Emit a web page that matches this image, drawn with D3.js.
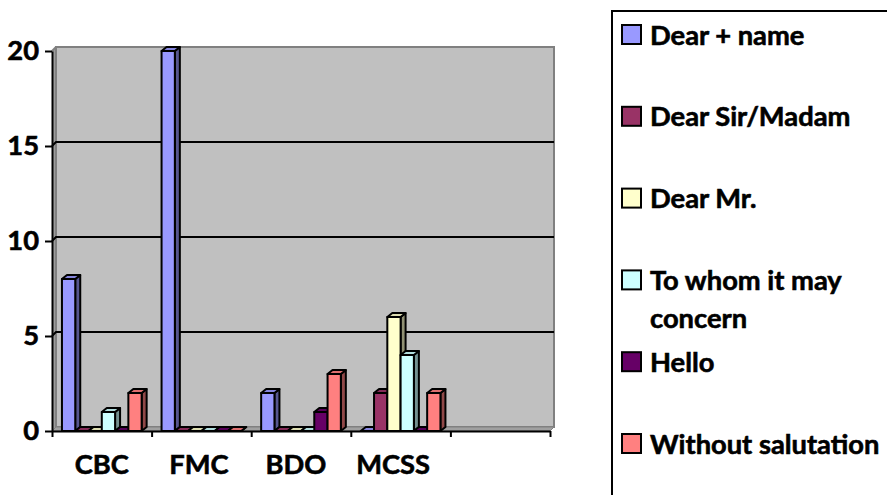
<!DOCTYPE html>
<html>
<head>
<meta charset="utf-8">
<script src="https://cdn.jsdelivr.net/npm/d3@7"></script>
<style>
  html, body { margin: 0; padding: 0; background: #ffffff; }
  svg { display: block; }
  text { font-family: Lato, "Open Sans", sans-serif; font-weight: bold; fill: #000; stroke: #000; stroke-width: 0.6px; }
</style>
</head>
<body>
<svg id="chart" width="887" height="495"></svg>
<script>
// Salutation counts per organisation
const categories = ["CBC", "FMC", "BDO", "MCSS"];
const seriesNames = ["Dear + name", "Dear Sir/Madam", "Dear Mr.", "To whom it may concern", "Hello", "Without salutation"];
const dearName      = [8, 20, 2, 0];
const dearSirMadam  = [0, 0, 0, 2];
const dearMr        = [0, 0, 0, 6];
const toWhom        = [1, 0, 0, 4];
const hello         = [0, 0, 1, 0];
const withoutSalut  = [2, 0, 3, 2];
const seriesColors  = ["#9999FF", "#993366", "#FFFFCC", "#CCFFFF", "#660066", "#FF8080"];
const yTicks = [0, 5, 10, 15, 20];

const seriesValues = [dearName, dearSirMadam, dearMr, toWhom, hello, withoutSalut];

const svg = d3.select("#chart");
const FONT = 27.3;

// Plot frame: front axes plus a shallow 3-D back wall
const plotLeft = 52, plotRight = 550, plotTop = 51, plotZero = 431;
const wallDx = 4, wallDy = 4;      // offset of the back wall
const barDx = 5, barDy = 4;        // depth of each column
const slotCount = categories.length + 1; // the category axis keeps one trailing empty slot

const x = d3.scaleLinear().domain([0, slotCount]).range([plotLeft, plotRight]);
const y = d3.scaleLinear().domain([0, 20]).range([plotZero, plotTop]);
const inner = d3.scaleBand().domain(d3.range(seriesNames.length))
  .range([0, x(1) - x(0)]).paddingInner(0).paddingOuter(0.75);

const pts = a => a.map(p => p.join(",")).join(" ");

// left side wall
svg.append("polygon")
  .attr("points", pts([[plotLeft, plotZero], [plotLeft, y(20)], [plotLeft + wallDx, y(20) - wallDy], [plotLeft + wallDx, plotZero - wallDy]]))
  .attr("fill", "#9c9c9c");
// back wall
svg.append("rect")
  .attr("x", plotLeft + wallDx).attr("y", y(20) - wallDy)
  .attr("width", plotRight - plotLeft).attr("height", plotZero - y(20))
  .attr("fill", "#c0c0c0").attr("stroke", "#808080").attr("stroke-width", 2);
// floor
svg.append("polygon")
  .attr("points", pts([[plotLeft, plotZero], [plotLeft + wallDx, plotZero - wallDy], [plotRight + wallDx, plotZero - wallDy], [plotRight, plotZero]]))
  .attr("fill", "#a0a0a0").attr("stroke", "#808080").attr("stroke-width", 1);

// gridlines on the side wall and back wall
svg.append("g").selectAll("polyline")
  .data(yTicks.filter(v => v > 0 && v < 20))
  .join("polyline")
  .attr("points", v => pts([[plotLeft, y(v)], [plotLeft + wallDx, y(v) - wallDy], [plotRight + wallDx, y(v) - wallDy]]))
  .attr("fill", "none").attr("stroke", "#000").attr("stroke-width", 2);
svg.append("line")
  .attr("x1", plotLeft).attr("y1", y(20)).attr("x2", plotLeft + wallDx).attr("y2", y(20) - wallDy)
  .attr("stroke", "#808080").attr("stroke-width", 2);

// columns
const bars = [];
categories.forEach((c, i) => {
  seriesNames.forEach((s, j) => {
    bars.push({ i, j, v: seriesValues[j][i], color: seriesColors[j] });
  });
});
const barG = svg.append("g");
bars.forEach(b => {
  const x0 = x(b.i) + inner(b.j), w = inner.bandwidth();
  const yt = y(b.v), yb = y(0);
  const g = barG.append("g")
    .attr("stroke", "#000").attr("stroke-width", 2).attr("stroke-linejoin", "round");
  const base = d3.color(b.color);
  g.append("polygon")
    .attr("points", pts([[x0 + w, yt], [x0 + w + barDx, yt - barDy], [x0 + w + barDx, yb - barDy], [x0 + w, yb]]))
    .attr("fill", base.darker(1.6));
  g.append("polygon")
    .attr("points", pts([[x0, yt], [x0 + barDx, yt - barDy], [x0 + w + barDx, yt - barDy], [x0 + w, yt]]))
    .attr("fill", base.darker(0.4));
  g.append("rect")
    .attr("x", x0).attr("y", yt).attr("width", w).attr("height", yb - yt)
    .attr("fill", b.color);
});

// value axis
const yAxis = svg.append("g").attr("transform", `translate(${plotLeft},0)`)
  .call(d3.axisLeft(y).tickValues(yTicks).tickSize(7).tickSizeOuter(0).tickPadding(6));
yAxis.select(".domain").attr("stroke", "#000").attr("stroke-width", 2);
yAxis.selectAll(".tick line").attr("stroke", "#000").attr("stroke-width", 2);
yAxis.selectAll("text").attr("font-size", FONT).attr("font-family", "Lato, sans-serif")
  .attr("font-weight", "bold").attr("fill", "#000").attr("stroke", "#000").attr("stroke-width", 0.6);

// category axis
const xAxis = svg.append("g").attr("transform", `translate(0,${plotZero})`)
  .call(d3.axisBottom(x).tickValues(d3.range(slotCount + 1)).tickSize(6).tickSizeOuter(0).tickFormat(""));
xAxis.select(".domain").attr("stroke", "#000").attr("stroke-width", 2);
xAxis.selectAll(".tick line").attr("stroke", "#000").attr("stroke-width", 2);

svg.append("g").selectAll("text")
  .data(categories)
  .join("text")
  .attr("x", (d, i) => (x(i) + x(i + 1)) / 2 - i * 2.5)
  .attr("y", 464)
  .attr("dy", "0.35em")
  .attr("text-anchor", "middle")
  .attr("font-size", FONT)
  .text(d => d);

// legend
const legendG = svg.append("g");
legendG.append("rect")
  .attr("x", 612).attr("y", 11).attr("width", 300).attr("height", 520)
  .attr("fill", "#fff").attr("stroke", "#000").attr("stroke-width", 2);

const legendStep = 81.8, legendY0 = 35, maxTextW = 255, lineH = 38;
seriesNames.forEach((name, k) => {
  const cy = legendY0 + k * legendStep;
  legendG.append("rect")
    .attr("x", 622).attr("y", cy - 10).attr("width", 19).attr("height", 19)
    .attr("fill", seriesColors[k]).attr("stroke", "#000").attr("stroke-width", 2);
  const t = legendG.append("text")
    .attr("x", 650).attr("y", cy).attr("font-size", FONT);
  // wrap long labels word by word
  const words = name.split(" ");
  let line = [];
  let tspan = t.append("tspan").attr("x", 650).attr("dy", "0.35em");
  words.forEach(wd => {
    line.push(wd);
    tspan.text(line.join(" "));
    if (tspan.node().getComputedTextLength() > maxTextW && line.length > 1) {
      line.pop();
      tspan.text(line.join(" "));
      line = [wd];
      tspan = t.append("tspan").attr("x", 650).attr("dy", lineH).text(wd);
    }
  });
});
</script>
</body>
</html>
